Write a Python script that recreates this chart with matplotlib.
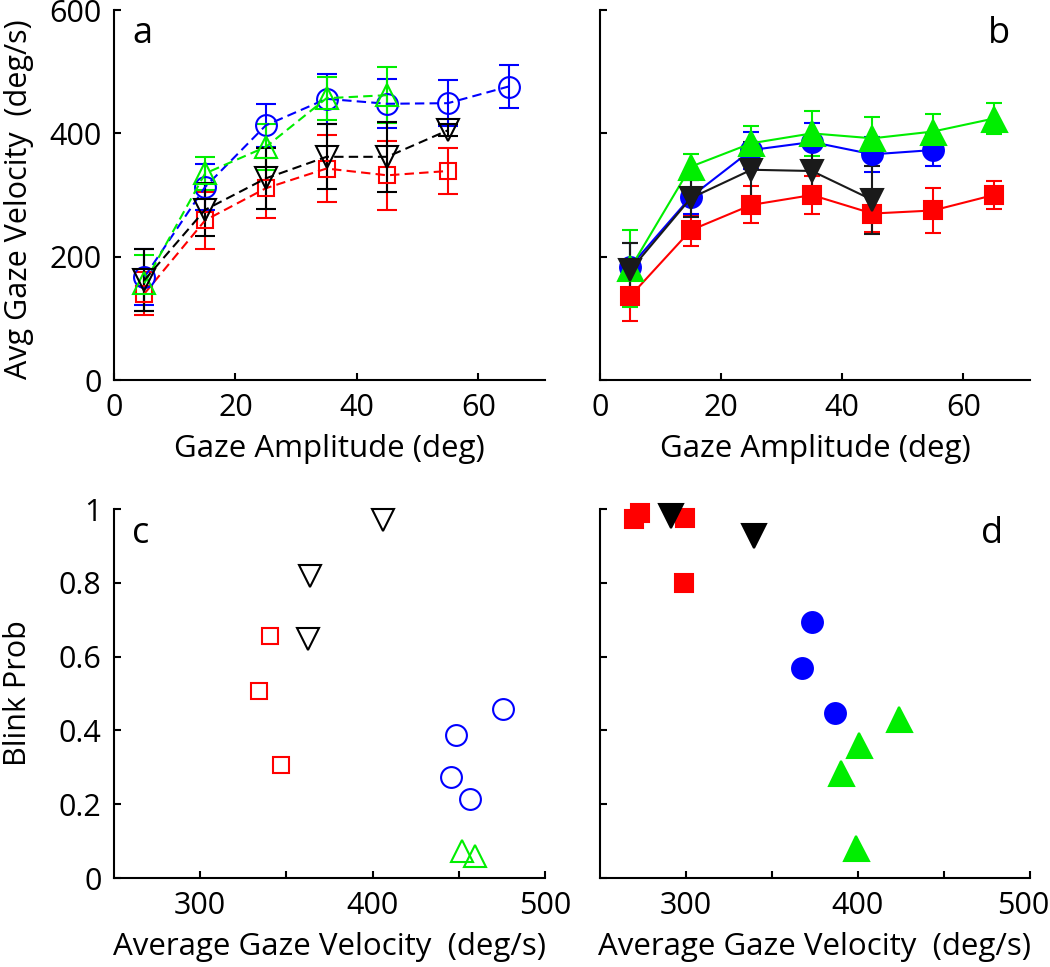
import numpy as np
import matplotlib
matplotlib.use('Agg')
import matplotlib.pyplot as plt
import matplotlib.transforms as mtransforms

plt.rcParams['font.family'] = ['Open Sans', 'DejaVu Sans']

# Gaze amplitude bins (deg)
amp = [5, 15, 25, 35, 45, 55, 65]

# Panel a: avg gaze velocity (deg/s) with error, open markers
a_red = [140, 259, 311, 343, 332, 339]
a_red_err = [35, 46, 49, 54, 56, 37]
a_blue = [167, 313, 413, 456, 448, 449, 476]
a_blue_err = [46, 37, 35, 41, 40, 37, 35]
a_green = [157, 335, 378, 457, 462]
a_green_err = [45, 27, 37, 35, 45]
a_black = [162, 276, 327, 362, 362, 405]
a_black_err = [50, 43, 50, 53, 57, 10]

# Panel b: avg gaze velocity (deg/s) with error, filled markers
b_red = [136, 243, 284, 300, 270, 275, 300]
b_red_err = [40, 25, 30, 31, 30, 36, 22]
b_blue = [184, 297, 373, 386, 366, 373]
b_blue_err = [39, 27, 30, 31, 28, 26]
b_green = [181, 346, 384, 400, 392, 403, 424]
b_green_err = [62, 20, 28, 36, 34, 29, 25]
b_black = [178, 295, 341, 339, 292]
b_black_err = [45, 30, 45, 40, 55]

# Panel c: blink probability vs average gaze velocity
c_red_x = [340.5, 333.8, 346.9]
c_red_y = [0.657, 0.508, 0.307]
c_black_x = [406.2, 363.7, 362.7]
c_black_y = [0.969, 0.819, 0.648]
c_blue_x = [475.7, 448.6, 445.2, 456.4]
c_blue_y = [0.458, 0.388, 0.274, 0.214]
c_green_x = [452.1, 459.3]
c_green_y = [0.072, 0.059]

# Panel d: blink probability vs average gaze velocity
d_red_x = [269.7, 273.0, 299.4, 299.0]
d_red_y = [0.973, 0.988, 0.977, 0.800]
d_black_x = [291.2, 339.8]
d_black_y = [0.980, 0.927]
d_blue_x = [373.0, 367.4, 386.9]
d_blue_y = [0.695, 0.570, 0.446]
d_green_x = [423.8, 400.4, 390.2, 399.0]
d_green_y = [0.430, 0.361, 0.284, 0.082]

RED = '#ff0000'
BLUE = '#0000ff'
GREEN = '#00ee00'
BLACK = '#000000'
DARK = '#1a1a1a'
FS = 22

# marker style per panel and group: (color, marker, size)
styles_a = {'red': (RED, 's', 11), 'blue': (BLUE, 'o', 15),
            'green': (GREEN, '^', 16), 'black': (BLACK, 'v', 16)}
styles_b = {'red': (RED, 's', 13), 'blue': (BLUE, 'o', 15),
            'green': (GREEN, '^', 18), 'black': (DARK, 'v', 16)}
styles_c = {'red': (RED, 's', 12), 'blue': (BLUE, 'o', 15),
            'green': (GREEN, '^', 16), 'black': (BLACK, 'v', 16)}
styles_d = {'red': (RED, 's', 12.5), 'blue': (BLUE, 'o', 15),
            'green': (GREEN, '^', 18), 'black': (BLACK, 'v', 17)}


def style_axes(ax):
    for side in ['top', 'right']:
        ax.spines[side].set_visible(False)
    for side in ['left', 'bottom']:
        ax.spines[side].set_linewidth(1.5)
    ax.tick_params(direction='in', length=5, width=1.5, labelsize=FS, pad=9)


def plot_amp_panel(ax, series, styles, filled, dashed, capsize):
    for name, y, err in series:
        color, marker, ms = styles[name]
        x = amp[:len(y)]
        ls = (0, (4.5, 2.5)) if dashed else '-'
        ax.errorbar(x, y, yerr=err, color=color, ecolor=color, linestyle=ls, lw=1.5,
                    elinewidth=1.5, capsize=capsize, capthick=1.5, marker=marker,
                    markersize=ms, markerfacecolor=color if filled else 'none',
                    markeredgecolor=color, markeredgewidth=1.5)
    ax.set_xlim(0, 71)
    ax.set_ylim(0, 600)
    ax.set_xticks([0, 20, 40, 60])
    ax.set_yticks([0, 200, 400, 600])
    ax.set_xlabel('Gaze Amplitude (deg)', fontsize=22.5, labelpad=8)
    style_axes(ax)


def plot_blink_panel(ax, series, styles, filled):
    for name, x, y in series:
        color, marker, ms = styles[name]
        ax.plot(x, y, linestyle='none', marker=marker, markersize=ms,
                markerfacecolor=color if filled else 'none', markeredgecolor=color,
                markeredgewidth=1.5, color=color, clip_on=False)
    ax.set_xlim(250, 500)
    ax.set_ylim(0, 1)
    ax.set_xticks([300, 350, 400, 450, 500])
    ax.set_xticklabels(['300', '', '400', '', '500'])
    ax.set_yticks([0, 0.2, 0.4, 0.6, 0.8, 1])
    ax.set_yticklabels(['0', '0.2', '0.4', '0.6', '0.8', '1'])
    ax.set_xlabel('Average Gaze Velocity  (deg/s)', fontsize=22.5, labelpad=8)
    style_axes(ax)


fig = plt.figure(figsize=(10.5, 9.67), dpi=100)
ax_a = fig.add_axes([0.1086, 0.607, 0.4105, 0.3826])
ax_b = fig.add_axes([0.5714, 0.607, 0.4095, 0.3826])
ax_c = fig.add_axes([0.1086, 0.092, 0.4105, 0.3816])
ax_d = fig.add_axes([0.5714, 0.092, 0.4095, 0.3816])

plot_amp_panel(ax_a, [('red', a_red, a_red_err), ('blue', a_blue, a_blue_err),
                      ('green', a_green, a_green_err), ('black', a_black, a_black_err)],
               styles_a, filled=False, dashed=True, capsize=7.5)
ax_a.set_ylabel('Avg Gaze Velocity  (deg/s)', fontsize=FS)
ax_a.yaxis.set_label_coords(-0.186, 0.49)

plot_amp_panel(ax_b, [('red', b_red, b_red_err), ('blue', b_blue, b_blue_err),
                      ('green', b_green, b_green_err), ('black', b_black, b_black_err)],
               styles_b, filled=True, dashed=False, capsize=5.5)
ax_b.set_yticklabels([])

plot_blink_panel(ax_c, [('red', c_red_x, c_red_y), ('black', c_black_x, c_black_y),
                        ('blue', c_blue_x, c_blue_y), ('green', c_green_x, c_green_y)],
                 styles_c, filled=False)
ax_c.set_ylabel('Blink Prob', fontsize=FS)
ax_c.yaxis.set_label_coords(-0.188, 0.5)

plot_blink_panel(ax_d, [('red', d_red_x, d_red_y), ('black', d_black_x, d_black_y),
                        ('blue', d_blue_x, d_blue_y), ('green', d_green_x, d_green_y)],
                 styles_d, filled=True)
ax_d.set_yticklabels([])

# keep the last tick label of panel d inside the figure
last = ax_d.xaxis.get_major_ticks()[-1].label1
last.set_transform(last.get_transform() +
                   mtransforms.ScaledTranslation(-0.07, 0, fig.dpi_scale_trans))

# panel letters
ax_a.text(0.042, 0.911, 'a', transform=ax_a.transAxes, fontsize=26, va='baseline', ha='left')
ax_b.text(0.953, 0.911, 'b', transform=ax_b.transAxes, fontsize=26, va='baseline', ha='right')
ax_c.text(0.042, 0.908, 'c', transform=ax_c.transAxes, fontsize=26, va='baseline', ha='left')
ax_d.text(0.937, 0.908, 'd', transform=ax_d.transAxes, fontsize=26, va='baseline', ha='right')

fig.savefig('out.png', dpi=100)
